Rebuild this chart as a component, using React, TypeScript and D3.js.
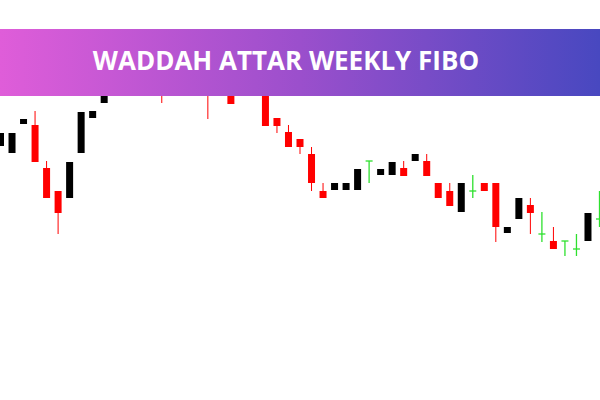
import React from "react";
import * as d3 from "d3";

// weekly candles, prices (open, high, low, close)
const opens = [
  1.1854, 1.1847, 1.1876, 1.1875, 1.1832, 1.1809, 1.1802, 1.1847, 1.1882, 1.1897,
  1.1908, 1.1930, 1.1950, 1.1935, 1.1960, 1.1920, 1.1945, 1.1965, 1.1940, 1.1915,
  1.1945, 1.1908, 1.1935, 1.1950, 1.1882, 1.1868, 1.1861, 1.1846, 1.1809, 1.1810,
  1.1810, 1.1810, 1.1839, 1.1825, 1.1825, 1.1832, 1.1839, 1.1839, 1.1817, 1.1809,
  1.1788, 1.1809, 1.1817, 1.1817, 1.1767, 1.1781, 1.1795, 1.1766, 1.1759, 1.1759,
  1.1751, 1.1759, 1.1781,
];
const highs = [
  1.1867, 1.1867, 1.1881, 1.1889, 1.1839, 1.1809, 1.1838, 1.1888, 1.1889, 1.1912,
  1.1935, 1.1950, 1.1952, 1.1960, 1.1962, 1.1945, 1.1965, 1.1968, 1.1942, 1.1945,
  1.1948, 1.1935, 1.1955, 1.1955, 1.1882, 1.1875, 1.1861, 1.1853, 1.1817, 1.1817,
  1.1817, 1.1831, 1.1839, 1.1831, 1.1838, 1.1839, 1.1846, 1.1846, 1.1817, 1.1817,
  1.1817, 1.1825, 1.1817, 1.1817, 1.1773, 1.1802, 1.1802, 1.1788, 1.1773, 1.1759,
  1.1766, 1.1787, 1.1809,
];
const lows = [
  1.1854, 1.1847, 1.1876, 1.1838, 1.1802, 1.1766, 1.1802, 1.1847, 1.1882, 1.1897,
  1.1906, 1.1928, 1.1933, 1.1933, 1.1897, 1.1912, 1.1943, 1.1938, 1.1881, 1.1908,
  1.1896, 1.1906, 1.1933, 1.1874, 1.1867, 1.1853, 1.1846, 1.1809, 1.1802, 1.1810,
  1.1810, 1.1810, 1.1817, 1.1825, 1.1825, 1.1824, 1.1839, 1.1824, 1.1802, 1.1794,
  1.1788, 1.1802, 1.1809, 1.1758, 1.1767, 1.1781, 1.1766, 1.1758, 1.1751, 1.1744,
  1.1744, 1.1759, 1.1773,
];
const closes = [
  1.1867, 1.1867, 1.1881, 1.1838, 1.1802, 1.1787, 1.1838, 1.1888, 1.1889, 1.1912,
  1.1930, 1.1950, 1.1935, 1.1960, 1.1920, 1.1945, 1.1965, 1.1940, 1.1915, 1.1945,
  1.1896, 1.1935, 1.1955, 1.1874, 1.1874, 1.1853, 1.1853, 1.1817, 1.1802, 1.1817,
  1.1817, 1.1831, 1.1839, 1.1831, 1.1838, 1.1824, 1.1846, 1.1824, 1.1802, 1.1794,
  1.1817, 1.1809, 1.1809, 1.1773, 1.1773, 1.1802, 1.1787, 1.1766, 1.1751, 1.1759,
  1.1751, 1.1787, 1.1781,
];

const title = "WADDAH ATTAR WEEKLY FIBO";

const W = 600;
const H = 400;
const bodyW = 7;

export default function App() {
  const candles = opens.map((o, i) => ({
    i, o, h: highs[i], l: lows[i], c: closes[i],
  }));

  const x = d3.scaleLinear().domain([0, candles.length - 1]).range([0.5, 599.5]);
  const y = d3.scaleLinear().domain([1.2, 1.16]).range([0, 400]);

  return (
    <svg width={W} height={H} style={{ display: "block", position: "absolute", left: 0, top: 0 }}>
      <defs>
        <linearGradient id="banner" x1="0" x2="1" y1="0" y2="0">
          <stop offset="0%" stopColor="#df5dd9" />
          <stop offset="50%" stopColor="#9b4fcc" />
          <stop offset="100%" stopColor="#4848c0" />
        </linearGradient>
      </defs>
      <rect width={W} height={H} fill="#fff" />
      <g>
        {candles.map((d) => {
          const cx = x(d.i);
          if (d.o === d.c) {
            return (
              <g key={d.i} stroke="#2ee02e" strokeWidth={1.3}>
                <line x1={cx} x2={cx} y1={y(d.h)} y2={y(d.l)} />
                <line x1={cx - bodyW / 2} x2={cx + bodyW / 2} y1={y(d.o)} y2={y(d.o)} />
              </g>
            );
          }
          const up = d.c > d.o;
          const col = up ? "#000" : "#ff0000";
          const top = y(Math.max(d.o, d.c));
          const bot = y(Math.min(d.o, d.c));
          return (
            <g key={d.i}>
              <line x1={cx} x2={cx} y1={y(d.h)} y2={y(d.l)} stroke={col} strokeWidth={1} />
              <rect x={cx - bodyW / 2} y={top} width={bodyW} height={Math.max(1, bot - top)} fill={col} />
            </g>
          );
        })}
      </g>
      <rect x={0} y={29} width={W} height={67} fill="url(#banner)" />
      <text
        x={286}
        y={70}
        textAnchor="middle"
        fill="#fff"
        fontFamily="'Open Sans', sans-serif"
        fontWeight={700}
        fontSize={26}
      >
        {title}
      </text>
    </svg>
  );
}
